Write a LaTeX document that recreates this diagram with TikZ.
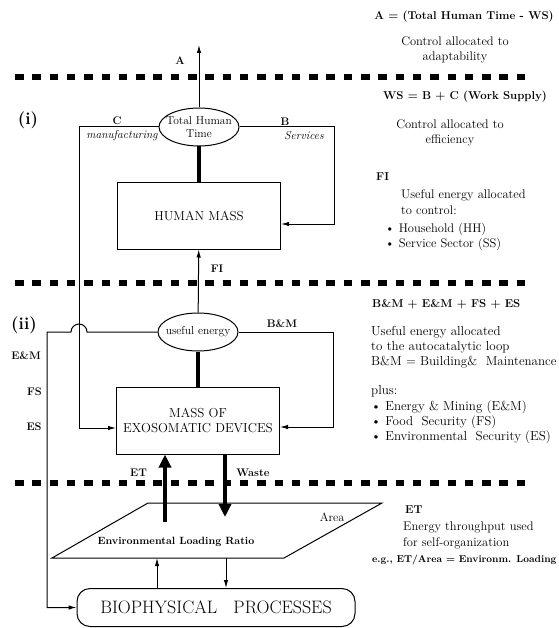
\documentclass[tikz,border=0pt]{standalone}
\usepackage{tikz}
\usetikzlibrary{shapes.geometric}
\usetikzlibrary{positioning}
\usetikzlibrary{arrows.meta}

\begin{document}
\begin{tikzpicture}[x=1pt, y=-1pt,
    separator/.style = {line width=5.5pt, dash pattern=on 8.5pt off 8.8pt},
    box/.style = {draw, wire, rectangle, minimum width=163pt, minimum height=66pt, inner sep=0pt, align=center, font=\fontsize{13}{15}\selectfont},
    oval/.style = {draw, wire, ellipse, minimum width=80pt, minimum height=38pt, inner sep=0pt},
    ovaltext/.style = {align=center, inner sep=0pt, font=\fontsize{11.5}{13}\selectfont},
    tag/.style = {font=\bfseries\fontsize{11}{13}\selectfont, inner sep=0pt},
    flowname/.style = {font=\itshape\fontsize{11.5}{13}\selectfont, inner sep=0pt},
    roman/.style = {font=\bfseries\fontsize{17}{19}\selectfont, inner sep=0pt},
    note/.style = {align=left, anchor=west, inner sep=0pt, font=\fontsize{12.5}{15.5}\selectfont},
    heading/.style = {font=\bfseries\fontsize{11.4}{13}\selectfont, inner sep=0pt},
    wire/.style = {line width=1pt},
    thin flow/.style = {line width=1pt, -{Latex[length=8pt,width=4.5pt]}},
    heavy/.style = {line width=4pt},
    heavy flow/.style = {line width=4pt, -{Triangle[length=13pt,width=12pt]}}]
    \useasboundingbox (0,0) rectangle (558,628);
    \foreach \y in {77,283,483}
        \draw[separator] (15,\y) -- (525,\y);

    \node[oval, label={[ovaltext]center:Total Human\\Time}] (thm) at (199,127) {};
    \node[box] (hm) at (199,216) {HUMAN MASS};
    \node[oval, label={[ovaltext]center:useful energy}] (ue) at (198,332) {};
    \node[box, minimum height=67pt] (mass) at (198,420.5) {MASS OF\\EXOSOMATIC DEVICES};
    \node[draw, wire, rounded corners=13pt, minimum width=278pt, minimum height=38pt,
        font=\fontsize{18}{20}\selectfont] (bio) at (216,607.5) {BIOPHYSICAL\ \ \ PROCESSES};
    \draw[wire] (52,558) -- (148,503) -- (382,503) -- (284,558) -- cycle;
    \node[font=\bfseries\fontsize{10.5}{12}\selectfont] (elr) at (176,542) {Environmental Loading Ratio};
    \node[font=\fontsize{12}{14}\selectfont] (area) at (332,517) {Area};

    \coordinate (atop) at (199,45);
    \draw[thin flow] (thm) -- (atop);
    \draw[heavy] (thm) -- (hm);
    \coordinate (bturn) at (334,224);
    \draw[thin flow] (thm.east) -| (bturn) -- (bturn -| hm.east);
    \coordinate (cturn) at (79,428);
    \draw[thin flow] (thm.west) -| (cturn) -- (cturn -| mass.west);
    \draw[thin flow] (ue) -- (hm);
    \draw[heavy] (ue) -- (mass);
    \coordinate (mturn) at (333,427);
    \draw[thin flow] (ue.east) -| (mturn) -- (mturn -| mass.east);
    \coordinate (eturn) at (47,607);
    \coordinate (hop) at (87,332);
    \draw[thin flow] (ue.west) -- (hop) arc[start angle=0, end angle=180, radius=8pt]
        -- (ue.west -| eturn) |- (bio.west);
    \coordinate (etfoot) at (165,522);
    \draw[heavy flow] (etfoot) -- (etfoot |- mass.south);
    \coordinate (wastetip) at (225,517);
    \draw[heavy flow] (wastetip |- mass.south) -- (wastetip);
    \coordinate (feedup) at (157,558);
    \draw[thin flow] (feedup |- bio.north) -- (feedup);
    \coordinate (feeddown) at (226,558);
    \draw[thin flow] (feeddown) -- (feeddown |- bio.north);

    \node[tag] (la) at (180,61) {A};
    \node[roman] (one) at (28,120) {(i)};
    \node[roman] (two) at (24,325) {(ii)};
    \node[tag] (lc) at (117,121) {C};
    \node[flowname] (manu) at (122,136) {manufacturing};
    \node[tag] (lb) at (285,122) {B};
    \node[flowname] (serv) at (304,136) {Services};
    \node[tag] (lfi) at (217,269) {FI};
    \node[tag] (lbm) at (282,324) {B\&M};
    \node[tag] (lem) at (26,356) {E\&M};
    \node[tag] (lfs) at (34.5,392) {FS};
    \node[tag] (les) at (34,427) {ES};
    \node[tag] (let) at (138.5,473) {ET};
    \node[tag] (lw) at (253,473) {Waste};

    \node[heading] (ha) at (464,17) {A = (Total Human Time - WS)};
    \node[note, anchor=center, align=center] (adapt) at (455,50) {Control allocated to\\adaptability};
    \node[heading] (hws) at (465,97) {WS = B + C (Work Supply)};
    \node[note, anchor=center, align=center] (effic) at (450,133) {Control allocated to\\efficiency};
    \node[heading, anchor=west] (hfi) at (376,177) {FI};
    \node[note] (ctrl) at (401,202) {Useful energy allocated\\to control:};
    \node[note] (hhss) at (385,237) {\textbullet~Household (HH)\\\textbullet~Service Sector (SS)};
    \node[heading, anchor=west] (hbm) at (372,304) {B\&M + E\&M + FS + ES};
    \node[note, font=\fontsize{13}{15}\selectfont] (auto) at (371,347) {Useful energy allocated\\to the autocatalytic loop\\B\&M = Building\&~ Maintenance};
    \node[note, font=\fontsize{13}{15.3}\selectfont] (plus) at (371,415) {plus:\\\textbullet~Energy \& Mining (E\&M)\\\textbullet~Food~ Security (FS)\\\textbullet~Environmental~ Security (ES)};
    \node[heading, anchor=west] (het) at (405,510) {ET};
    \node[note] (thru) at (403,535.5) {Energy throughput used\\for self-organization};
    \node[heading, anchor=west, font=\bfseries\fontsize{10}{12}\selectfont] (eg) at (372,560) {e.g., ET/Area = Environm. Loading};
\end{tikzpicture}
\end{document}
